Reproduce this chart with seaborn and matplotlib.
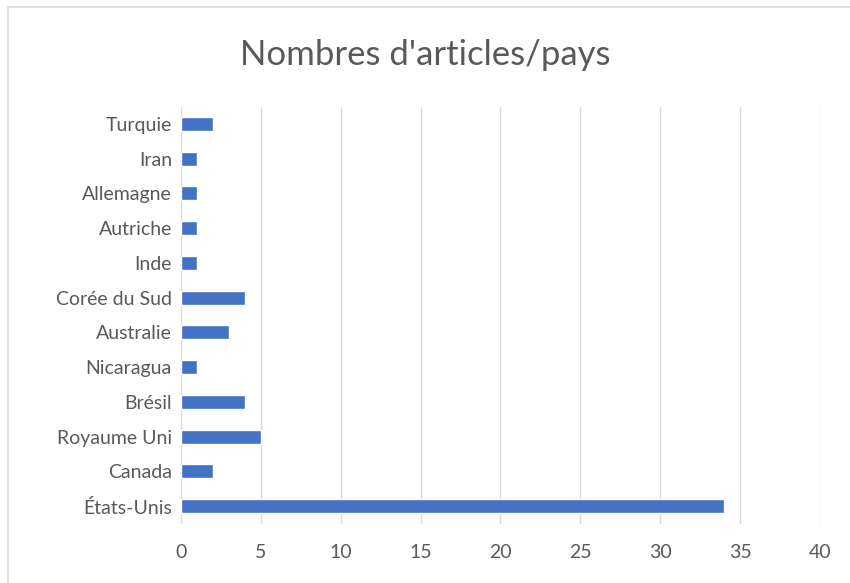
import matplotlib
matplotlib.use("Agg")
import matplotlib.pyplot as plt
import seaborn as sns
import pandas as pd

countries = ["Turquie", "Iran", "Allemagne", "Autriche", "Inde", "Corée du Sud",
             "Australie", "Nicaragua", "Brésil", "Royaume Uni", "Canada", "États-Unis"]
articles = [2, 1, 1, 1, 1, 4, 3, 1, 4, 5, 2, 34]
x_ticks = [0, 5, 10, 15, 20, 25, 30, 35, 40]
title = "Nombres d'articles/pays"

df = pd.DataFrame({"pays": countries, "articles": articles})

sns.set_theme(style="white")
plt.rcParams["font.family"] = ["Lato", "DejaVu Sans"]

fig = plt.figure(figsize=(8.5, 5.83), dpi=100)
ax = fig.add_axes([181/850, 1 - 523.5/583, (820-181)/850, (523.5-106.5)/583])

sns.barplot(data=df, x="articles", y="pays", order=countries, color="#4472C4",
            width=0.4, saturation=1, ax=ax, zorder=3)

ax.set_xlim(0, 40)
ax.set_xticks(x_ticks)
ax.set_xticklabels([str(t) for t in x_ticks])
ax.xaxis.grid(True, color="#D9D9D9", linewidth=1, zorder=0)
ax.yaxis.grid(False)
for s in ax.spines.values():
    s.set_visible(False)
ax.set_xlabel("")
ax.set_ylabel("")
ax.tick_params(axis="both", length=0, labelsize=14, labelcolor="#595959")
ax.tick_params(axis="x", pad=15)
ax.tick_params(axis="y", pad=6.5)

fig.text(0.5, 1 - 55/583, title, ha="center", va="center", fontsize=25, color="#595959")

border = plt.Rectangle((8/850, -5/583), 850/850, 581/583, transform=fig.transFigure,
                       fill=False, edgecolor="#D9D9D9", linewidth=1.2)
fig.patches.append(border)

fig.savefig("out.png", dpi=100)
